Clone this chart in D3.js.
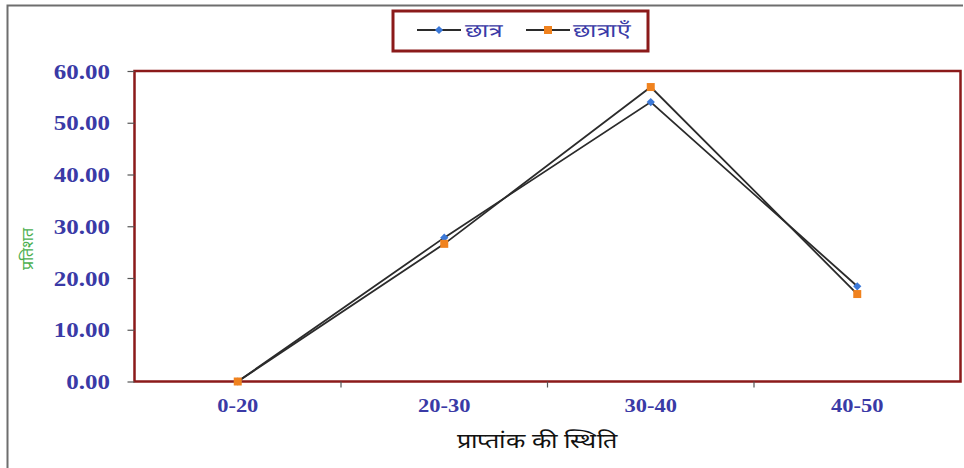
<!DOCTYPE html>
<html>
<head>
<meta charset="utf-8">
<script src="https://cdn.jsdelivr.net/npm/d3@7/dist/d3.min.js"></script>
<style>
  html, body { margin: 0; padding: 0; background: #fff; }
  svg { display: block; }
</style>
</head>
<body>
<svg id="chart" width="964" height="468"></svg>
<script>
// Score ranges and the percentage of boys / girls in each
const categories = ["0-20", "20-30", "30-40", "40-50"];
const boys = [0, 27.8, 54.0, 18.4];
const girls = [0, 26.6, 56.9, 16.9];
const yTicks = [0, 10, 20, 30, 40, 50, 60];
const seriesNames = ["छात्र", "छात्राएँ"];
const yTitle = "प्रतिशत";
const xTitle = "प्राप्तांक की स्थिति";

const svg = d3.select("#chart");
const W = 964, H = 468;
const plot = { left: 134.5, right: 960.5, top: 71, bottom: 381.5 };
const labelColor = "#3a3aa6";
const borderColor = "#8b1a1a";
const serif = "'Liberation Serif', 'Times New Roman', serif";
const stretch = 1.25;

// outer frame (top and left edges)
svg.append("path")
  .attr("d", `M7.5,${H} V5.5 H963`)
  .attr("fill", "none").attr("stroke", "#6e6e6e").attr("stroke-width", 2);

const x = d3.scaleBand().domain(categories).range([plot.left, plot.right]);
const y = d3.scaleLinear().domain([0, 60]).range([plot.bottom, plot.top]);

// plot area border
svg.append("rect")
  .attr("x", plot.left).attr("y", plot.top)
  .attr("width", plot.right - plot.left).attr("height", plot.bottom - plot.top)
  .attr("fill", "none").attr("stroke", borderColor).attr("stroke-width", 2.5);

// y axis
const yAxis = svg.append("g")
  .attr("transform", `translate(${plot.left},0)`)
  .call(d3.axisLeft(y).tickValues(yTicks).tickFormat(d3.format(".2f")).tickSize(7).tickPadding(0));
yAxis.select(".domain").remove();
yAxis.selectAll(".tick line").attr("stroke", "#555").attr("stroke-width", 1.2);
yAxis.selectAll(".tick text")
  .attr("x", -24.5 / stretch).attr("dy", "0.35em")
  .attr("transform", `scale(${stretch},1)`)
  .attr("fill", labelColor)
  .style("font-family", serif).style("font-weight", "bold").style("font-size", "20px");

// x axis (ticks at category boundaries, labels centred in each band)
const xAxis = svg.append("g")
  .attr("transform", `translate(0,${plot.bottom})`)
  .call(d3.axisBottom(x).tickSize(0).tickPadding(0));
xAxis.select(".domain").remove();
xAxis.selectAll(".tick text")
  .attr("y", 0).attr("dy", "1.2em")
  .attr("transform", `translate(0,9) scale(${stretch},1)`)
  .attr("fill", labelColor)
  .style("font-family", serif).style("font-weight", "bold").style("font-size", "18px");
svg.append("g").selectAll("line")
  .data(categories.slice(1))
  .join("line")
  .attr("x1", d => x(d)).attr("x2", d => x(d))
  .attr("y1", plot.bottom).attr("y2", plot.bottom + 6)
  .attr("stroke", "#555").attr("stroke-width", 1.2);

// axis titles
svg.append("text")
  .attr("transform", `translate(33,249) rotate(-90)`)
  .attr("text-anchor", "middle")
  .attr("fill", "#4caf50")
  .style("font-family", serif).style("font-size", "16px")
  .text(yTitle);
svg.append("text")
  .attr("transform", `translate(537,448) scale(1.2,1)`)
  .attr("text-anchor", "middle")
  .attr("fill", "#111")
  .style("font-family", serif).style("font-size", "21px")
  .text(xTitle);

// series lines and markers
const cx = d => x(d) + x.bandwidth() / 2;
const line = d3.line().x(d => cx(d.c)).y(d => y(d.v));
const series = [
  { name: seriesNames[0], values: boys, color: "#3b78d8", shape: "diamond" },
  { name: seriesNames[1], values: girls, color: "#f0821e", shape: "square" }
];
series.forEach(s => {
  const pts = categories.map((c, i) => ({ c, v: s.values[i] }));
  svg.append("path").datum(pts)
    .attr("d", line).attr("fill", "none")
    .attr("stroke", "#2b2b2b").attr("stroke-width", 1.8);
});
// diamonds are squares turned by 45 degrees
const markerPath = s => d3.symbol().type(d3.symbolSquare).size(s.shape === "square" ? 64 : 34)();
const markerRot = s => (s.shape === "square" ? "" : " rotate(45)");
series.forEach(s => {
  svg.append("g").selectAll("path")
    .data(categories.map((c, i) => ({ c, v: s.values[i] })))
    .join("path")
    .attr("d", markerPath(s))
    .attr("transform", d => `translate(${cx(d.c)},${y(d.v)})${markerRot(s)}`)
    .attr("fill", s.color);
});

// legend
const lg = svg.append("g");
lg.append("rect")
  .attr("x", 393).attr("y", 11).attr("width", 255).attr("height", 40)
  .attr("fill", "#fff").attr("stroke", borderColor).attr("stroke-width", 3);
const legendItems = [
  { s: series[0], x0: 417, x1: 461, tx: 465 },
  { s: series[1], x0: 526, x1: 570, tx: 573 }
];
legendItems.forEach(it => {
  lg.append("line")
    .attr("x1", it.x0).attr("x2", it.x1).attr("y1", 30).attr("y2", 30)
    .attr("stroke", "#2b2b2b").attr("stroke-width", 1.8);
  lg.append("path")
    .attr("d", markerPath(it.s))
    .attr("transform", `translate(${(it.x0 + it.x1) / 2},30)${markerRot(it.s)}`)
    .attr("fill", it.s.color);
  lg.append("text")
    .attr("transform", `translate(${it.tx},30) scale(1.3,1)`)
    .attr("dy", "0.35em")
    .attr("fill", labelColor)
    .style("font-family", serif).style("font-size", "19px")
    .text(it.s.name);
});
</script>
</body>
</html>
